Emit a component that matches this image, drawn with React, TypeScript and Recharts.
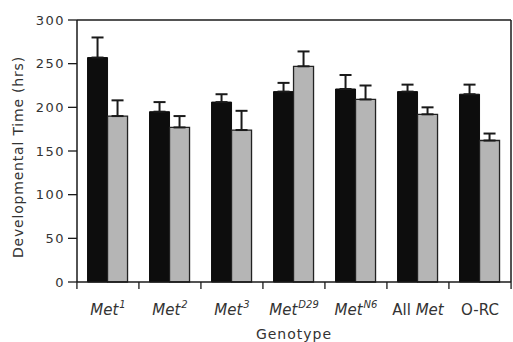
import { BarChart, Bar, XAxis, YAxis, ErrorBar, ReferenceLine, Label } from 'recharts';

const genotypes = ['Met1', 'Met2', 'Met3', 'MetD29', 'MetN6', 'All Met', 'O-RC'];
const blackMeans = [257, 195, 206, 218, 221, 218, 215];
const blackErr = [23, 11, 9, 10, 16, 8, 11];
const greyMeans = [190, 177, 174, 247, 209, 192, 162];
const greyErr = [18, 13, 22, 17, 16, 8, 8];
const yTicks = [0, 50, 100, 150, 200, 250, 300];

// how each genotype label is written
const labelParts: Record<string, { pre?: string; it?: string; sup?: string; plain?: string }> = {
  Met1: { it: 'Met', sup: '1' },
  Met2: { it: 'Met', sup: '2' },
  Met3: { it: 'Met', sup: '3' },
  MetD29: { it: 'Met', sup: 'D29' },
  MetN6: { it: 'Met', sup: 'N6' },
  'All Met': { pre: 'All ', it: 'Met' },
  'O-RC': { plain: 'O-RC' },
};

const data = genotypes.map((g, i) => ({
  genotype: g,
  black: blackMeans[i],
  blackErr: [0, blackErr[i]],
  grey: greyMeans[i],
  greyErr: [0, greyErr[i]],
}));

const W = 513;
const H = 342;
const LEFT = 77;
const RIGHT = 1;
const PLOT_W = W - LEFT - RIGHT;
const INK = '#1a1a1a';
const TEXT = '#333333';
const FONT = '"DejaVu Sans", Verdana, sans-serif';

function GenotypeTick(props: any) {
  const { x, y, payload, index } = props;
  const band = PLOT_W / genotypes.length;
  const p = labelParts[payload.value] || { plain: payload.value };
  return (
    <g>
      <line x1={x - band / 2} x2={x - band / 2} y1={y} y2={y + 7} stroke={INK} strokeWidth={1.3} />
      {index === genotypes.length - 1 && (
        <line x1={x + band / 2} x2={x + band / 2} y1={y} y2={y + 7} stroke={INK} strokeWidth={1.3} />
      )}
      <text x={x} y={y + 33} textAnchor="middle" fill={TEXT} fontSize={15} fontFamily={FONT}>
        {p.plain && <tspan>{p.plain}</tspan>}
        {p.pre && <tspan>{p.pre}</tspan>}
        {p.it && <tspan fontStyle="italic">{p.it}</tspan>}
        {p.sup && (
          <tspan fontStyle="italic" fontSize={10} dx={1} dy={-7}>
            {p.sup}
          </tspan>
        )}
      </text>
    </g>
  );
}

function YTitle() {
  return (
    <text
      x={18}
      y={157}
      transform="rotate(-90 18 157)"
      textAnchor="middle"
      dominantBaseline="central"
      style={{ fill: TEXT, fontFamily: FONT, fontSize: 14, letterSpacing: 0.8 }}
    >
      Developmental Time (hrs)
    </text>
  );
}

export default function App() {
  return (
    <div style={{ position: 'absolute', left: 0, top: 0, width: W, height: H, background: '#fff' }}>
      <BarChart
        width={W}
        height={H}
        data={data}
        margin={{ top: 20, right: RIGHT, bottom: 0, left: 0 }}
        barCategoryGap="17%"
        barGap={0}
      >
        <XAxis
          dataKey="genotype"
          height={60}
          tickLine={false}
          tickSize={0}
          tickMargin={0}
          axisLine={{ stroke: INK, strokeWidth: 1.5 }}
          tick={<GenotypeTick />}
          interval={0}
        >
          <Label
            value="Genotype"
            position="insideBottom"
            offset={3}
            style={{ fontFamily: FONT, fontSize: 14, fill: TEXT, letterSpacing: 1 }}
          />
        </XAxis>
        <YAxis
          width={LEFT}
          domain={[0, 300]}
          ticks={yTicks}
          interval={0}
          tickSize={9}
          tickMargin={3}
          tickLine={{ stroke: INK, strokeWidth: 1.3 }}
          axisLine={{ stroke: INK, strokeWidth: 1.5 }}
          tick={{ fontFamily: FONT, fontSize: 13, fill: TEXT, letterSpacing: 1.5 }}
        >
          <Label content={<YTitle />} />
        </YAxis>
        <YAxis
          yAxisId="right"
          orientation="right"
          width={RIGHT}
          domain={[0, 300]}
          tick={false}
          tickLine={false}
          axisLine={{ stroke: INK, strokeWidth: 1.5 }}
        />
        <ReferenceLine y={300} stroke={INK} strokeWidth={1.5} />
        <Bar dataKey="black" fill="#0d0d0d" stroke="#0d0d0d" strokeWidth={1} isAnimationActive={false}>
          <ErrorBar dataKey="blackErr" direction="y" width={6} stroke={INK} strokeWidth={2} />
        </Bar>
        <Bar dataKey="grey" fill="#b5b5b5" stroke="#222" strokeWidth={1.3} isAnimationActive={false}>
          <ErrorBar dataKey="greyErr" direction="y" width={6} stroke={INK} strokeWidth={2} />
        </Bar>
      </BarChart>
    </div>
  );
}
